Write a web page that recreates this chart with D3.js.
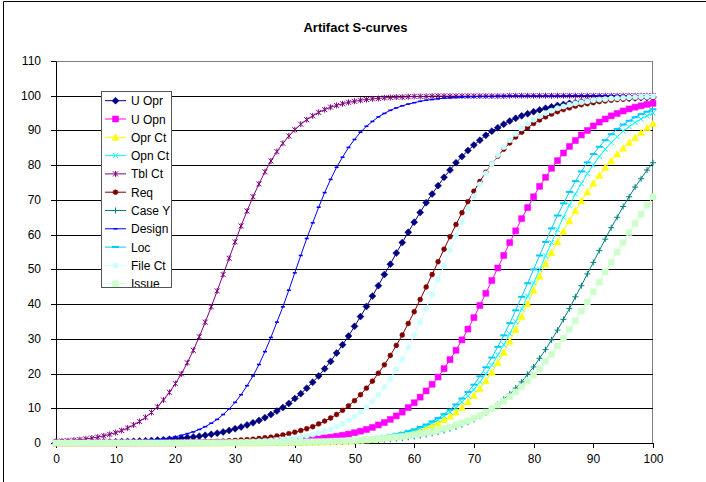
<!DOCTYPE html>
<html><head><meta charset="utf-8">
<script src="https://cdn.jsdelivr.net/npm/d3@7"></script>
<style>body{margin:0;background:#fff}svg{display:block}text{font-family:Arial,"Liberation Sans",sans-serif}</style>
</head><body><svg id="c" width="706" height="482"></svg>
<script>
const categories = [0,1,2,3,4,5,6,7,8,9,10,11,12,13,14,15,16,17,18,19,20,21,22,23,24,25,26,27,28,29,30,31,32,33,34,35,36,37,38,39,40,41,42,43,44,45,46,47,48,49,50,51,52,53,54,55,56,57,58,59,60,61,62,63,64,65,66,67,68,69,70,71,72,73,74,75,76,77,78,79,80,81,82,83,84,85,86,87,88,89,90,91,92,93,94,95,96,97,98,99,100];

const uOpr = [0.10,0.12,0.13,0.15,0.17,0.19,0.21,0.24,0.28,0.31,
 0.35,0.40,0.45,0.51,0.58,0.66,0.74,0.84,0.95,1.07,
 1.21,1.37,1.55,1.75,1.97,2.23,2.51,2.84,3.2,3.6,
 4.1,4.6,5.2,5.8,6.5,7.3,8.2,9.2,10.2,11.4,
 12.8,14.2,15.8,17.5,19.3,21.4,23.5,25.9,28.3,30.8,
 33.6,36.4,39.3,42.3,45.3,48.5,51.5,54.7,57.7,60.7,
 63.6,66.4,69.2,71.7,74.1,76.5,78.6,80.7,82.5,84.2,
 85.8,87.2,88.6,89.8,90.8,91.8,92.7,93.5,94.2,94.8,
 95.4,95.9,96.4,96.8,97.2,97.5,97.8,98.0,98.3,98.5,
 98.6,98.8,98.9,99.1,99.2,99.3,99.3,99.4,99.5,99.5,99.6];

const uOpn = [0,0,0,0,0,0,0,0,0,0,
 0.01,0.01,0.01,0.01,0.01,0.02,0.02,0.02,0.03,0.03,
 0.04,0.04,0.05,0.06,0.07,0.08,0.09,0.11,0.12,0.14,
 0.16,0.19,0.22,0.26,0.29,0.34,0.40,0.46,0.53,0.61,
 0.70,0.82,0.94,1.09,1.25,1.45,1.68,1.93,2.23,2.56,
 2.96,3.4,3.9,4.5,5.2,5.9,6.8,7.8,8.9,10.2,
 11.6,13.2,15.0,16.9,19.0,21.4,24.0,26.7,29.7,32.8,
 36.1,39.6,43.1,46.8,50.4,54.0,57.7,61.1,64.6,67.8,
 70.9,73.9,76.5,79.1,81.3,83.5,85.4,87.1,88.7,90.0,
 91.3,92.4,93.3,94.2,94.9,95.6,96.2,96.7,97.1,97.5,97.8];

const oprCt = [0,0,0,0,0,0,0,0,0,0,
 0,0,0,0,0,0,0,0,0,0,
 0.01,0.01,0.01,0.01,0.01,0.01,0.01,0.02,0.02,0.02,
 0.03,0.03,0.04,0.04,0.05,0.06,0.07,0.08,0.09,0.11,
 0.13,0.15,0.18,0.21,0.25,0.29,0.34,0.40,0.47,0.55,
 0.64,0.75,0.88,1.03,1.21,1.42,1.66,1.95,2.28,2.66,
 3.1,3.6,4.2,4.9,5.7,6.7,7.7,8.9,10.3,11.9,
 13.7,15.7,17.9,20.4,23.1,26.1,29.3,32.7,36.4,40.1,
 44.0,48.0,51.6,54.8,57.9,61.0,64.0,66.9,69.7,72.3,
 74.8,77.1,79.3,81.3,83.2,84.9,86.5,87.9,89.4,90.8,92.0];

const opnCt = [0,0,0,0,0,0,0,0,0,0,
 0,0,0,0,0,0,0,0,0,0,
 0.01,0.01,0.01,0.01,0.01,0.02,0.02,0.02,0.03,0.03,
 0.04,0.04,0.05,0.06,0.07,0.08,0.09,0.11,0.13,0.15,
 0.17,0.20,0.24,0.28,0.32,0.38,0.44,0.51,0.60,0.70,
 0.81,0.95,1.10,1.29,1.50,1.75,2.03,2.37,2.75,3.2,
 3.7,4.3,5.0,5.8,6.7,7.7,8.9,10.2,11.8,13.5,
 15.4,17.5,19.9,22.4,25.3,28.3,31.5,35.0,38.6,42.3,
 46.1,50.0,53.9,57.7,61.4,65.0,68.5,71.7,74.7,77.6,
 80.1,82.5,84.6,86.5,88.2,89.8,91.1,92.3,93.3,94.2,95.0];

const tblCt = [0.5,0.55,0.67,0.81,0.98,1.18,1.42,1.71,2.06,2.49,
 2.99,3.59,4.32,5.2,6.2,7.4,8.8,10.4,12.4,14.6,
 17.1,19.9,23.1,26.7,30.6,34.8,39.2,43.8,48.5,53.2,
 57.9,62.5,66.8,70.9,74.6,78.1,81.2,83.9,86.3,88.4,
 90.2,91.8,93.1,94.2,95.2,96.0,96.7,97.2,97.7,98.1,
 98.4,98.7,98.9,99.1,99.2,99.4,99.5,99.6,99.6,99.7,
 99.8,99.8,99.8,99.9,99.9,99.9,99.9,99.9,99.9,99.9,
 99.9,99.9,99.9,99.9,99.9,99.9,100,100,100,100,
 100,100,100,100,100,100,100,100,100,100,
 100,100,100,100,100,100,100,100,100,100,100];

const req = [0.01,0.01,0.01,0.01,0.02,0.02,0.02,0.03,0.03,0.04,
 0.04,0.05,0.05,0.06,0.07,0.08,0.09,0.11,0.13,0.15,
 0.17,0.20,0.23,0.26,0.30,0.35,0.41,0.47,0.55,0.64,
 0.73,0.85,0.97,1.1,1.3,1.5,1.7,2.0,2.3,2.7,
 3.1,3.6,4.1,4.7,5.5,6.3,7.2,8.2,9.4,10.7,
 12.2,13.9,15.8,17.8,20.1,22.5,25.2,28.1,31.1,34.4,
 37.8,41.3,44.9,48.5,52.2,55.8,59.4,62.9,66.3,69.5,
 72.5,75.3,78.0,80.4,82.6,84.6,86.4,88.1,89.5,90.8,
 92.0,93.0,93.9,94.7,95.4,96.0,96.5,97.0,97.4,97.7,
 98.0,98.3,98.5,98.7,98.9,99.0,99.2,99.3,99.4,99.5,99.5];

const caseY = [0,0,0,0,0,0,0,0,0,0,
 0,0,0,0,0,0,0,0,0,0,
 0.01,0.01,0.01,0.01,0.01,0.02,0.02,0.02,0.02,0.03,
 0.03,0.04,0.04,0.05,0.06,0.06,0.07,0.08,0.10,0.11,
 0.13,0.15,0.17,0.19,0.22,0.25,0.28,0.33,0.37,0.43,
 0.49,0.56,0.64,0.73,0.83,0.96,1.09,1.25,1.42,1.63,
 1.85,2.12,2.41,2.76,3.1,3.6,4.1,4.6,5.3,6.0,
 6.8,7.7,8.7,9.9,11.1,12.6,14.1,15.8,17.6,19.8,
 21.9,24.4,26.9,29.7,32.5,35.6,38.7,42.1,45.3,48.7,
 52.0,55.4,58.7,62.0,65.0,68.1,70.9,73.7,76.1,78.6,80.7];

const design = [0.03,0.04,0.05,0.06,0.08,0.09,0.12,0.14,0.17,0.21,
 0.25,0.31,0.38,0.46,0.55,0.68,0.82,1.0,1.2,1.5,
 1.8,2.2,2.7,3.2,3.9,4.7,5.7,6.8,8.2,9.8,
 11.7,13.9,16.5,19.3,22.6,26.3,30.4,34.8,39.2,44.0,
 49.0,54.0,58.9,63.4,67.9,72.1,75.9,79.4,82.3,85.1,
 87.4,89.5,91.2,92.6,93.9,94.9,95.8,96.5,97.1,97.6,
 98.0,98.4,98.7,98.9,99.1,99.3,99.4,99.5,99.6,99.7,
 99.7,99.8,99.8,99.8,99.9,99.9,99.9,99.9,99.9,99.9,
 99.9,99.9,99.9,99.9,99.9,99.9,100,100,100,100,
 100,100,100,100,100,100,100,100,100,100,100];

const loc = [0,0,0,0,0,0,0,0,0,0,
 0,0,0,0,0,0,0,0,0,0,
 0.01,0.01,0.01,0.01,0.01,0.02,0.02,0.02,0.02,0.03,
 0.03,0.04,0.05,0.05,0.06,0.07,0.09,0.10,0.12,0.14,
 0.17,0.19,0.23,0.27,0.31,0.37,0.43,0.51,0.59,0.70,
 0.82,0.96,1.12,1.31,1.54,1.80,2.10,2.46,2.88,3.4,
 3.9,4.6,5.3,6.2,7.2,8.3,9.6,11.1,12.8,14.7,
 16.8,19.2,21.8,24.6,27.7,31.0,34.5,38.2,42.1,46.0,
 50.0,54.0,57.9,61.8,65.5,69.0,72.3,75.4,78.2,80.8,
 83.2,85.3,87.2,88.9,90.4,91.7,92.8,93.8,94.7,95.4,96.1];

const fileCt = [0,0,0,0,0,0,0,0,0,0,
 0.01,0.01,0.01,0.02,0.02,0.02,0.03,0.03,0.04,0.04,
 0.05,0.06,0.07,0.08,0.10,0.12,0.14,0.16,0.20,0.23,
 0.27,0.32,0.38,0.45,0.54,0.64,0.75,0.89,1.06,1.25,
 1.48,1.75,2.06,2.44,2.88,3.4,4.0,4.7,5.5,6.5,
 7.6,8.9,10.3,12.0,13.9,16.1,18.5,21.2,24.2,27.5,
 31.0,34.8,38.7,42.8,47.0,51.2,55.5,59.6,63.6,67.5,
 71.1,74.5,77.6,80.4,82.9,85.2,87.2,89.0,90.6,91.9,
 93.1,94.1,95.0,95.7,96.4,96.9,97.4,97.8,98.1,98.4,
 98.7,98.9,99.0,99.2,99.3,99.4,99.5,99.6,99.7,99.7,99.8];

const issue = [0,0,0,0,0,0.01,0.01,0.01,0.01,0.01,
 0.01,0.01,0.01,0.01,0.01,0.01,0.02,0.02,0.02,0.02,
 0.02,0.03,0.03,0.03,0.04,0.04,0.05,0.05,0.06,0.07,
 0.08,0.09,0.10,0.11,0.12,0.14,0.15,0.17,0.19,0.22,
 0.24,0.27,0.31,0.34,0.39,0.43,0.49,0.54,0.61,0.68,
 0.77,0.86,0.97,1.08,1.21,1.35,1.52,1.70,1.91,2.13,
 2.39,2.66,2.98,3.3,3.7,4.2,4.6,5.2,5.8,6.4,
 7.2,7.9,8.9,9.8,10.9,12.0,13.4,14.7,16.2,17.8,
 19.6,21.4,23.5,25.5,27.9,30.2,32.7,35.2,38.0,40.6,
 43.5,46.3,49.3,52.0,55.0,57.7,60.6,63.2,65.9,68.4,70.9];

const seriesNames = ["U Opr","U Opn","Opr Ct","Opn Ct","Tbl Ct","Req","Case Y","Design","Loc","File Ct","Issue"];
const seriesValues = [uOpr,uOpn,oprCt,opnCt,tblCt,req,caseY,design,loc,fileCt,issue];
const yTicks = [0,10,20,30,40,50,60,70,80,90,100,110];
const xTicks = [0,10,20,30,40,50,60,70,80,90,100];
const titleText = "Artifact S-curves";

// styles
const seriesColors = ["#000080","#FF00FF","#FFFF00","#00FFFF","#800080","#800000","#008080","#0000FF","#00CCFF","#CCFFFF","#CCFFCC"];
const seriesMarkers = ["diamond","square","triangle","x","star","circle","plus","dashS","dashL","circleS","square"];

const markerDefs = {
  diamond:{d:"M0,-3.5L3.5,0L0,3.5L-3.5,0Z", fill:true},
  square:{d:"M-3,-3H3V3H-3Z", fill:true},
  triangle:{d:"M0,-3.5L3.5,3L-3.5,3Z", fill:true},
  x:{d:"M-2.5,-2.5L2.5,2.5M-2.5,2.5L2.5,-2.5", fill:false, w:1},
  star:{d:"M-2.5,-2.5L2.5,2.5M-2.5,2.5L2.5,-2.5M0,-3V3", fill:false, w:1},
  circle:{d:d3.symbol(d3.symbolCircle, 19)(), fill:true},
  circleS:{d:d3.symbol(d3.symbolCircle, 22)(), fill:true},
  plus:{d:"M-3,0H3M0,-3V3", fill:false, w:1},
  dashS:{d:"M-2,0H2", fill:false, w:1.6},
  dashL:{d:"M-3.5,0H3.5", fill:false, w:2}
};

const W = 706, H = 482;
const svg = d3.select("#c");
const x = d3.scaleLinear().domain([0,100]).range([56,653]);
const y = d3.scaleLinear().domain([0,110]).range([443,61]);
const xr = x.copy().interpolate(d3.interpolateRound);
const yr = y.copy().interpolate(d3.interpolateRound);

svg.append("rect").attr("width",W).attr("height",H).attr("fill","#fff");
svg.append("path").attr("d","M3.5,482V1.5H706").attr("fill","none").attr("stroke","#000");

svg.append("text").attr("x",355.5).attr("y",32).attr("text-anchor","middle")
  .attr("font-size",13).attr("font-weight","bold").attr("fill","#000").text(titleText);

// plot area border
svg.append("rect").attr("x",56.5).attr("y",61.5).attr("width",596).attr("height",382)
  .attr("fill","#fff").attr("stroke","#808080");

// gridlines
svg.append("g").selectAll("line").data(yTicks.filter(v=>v>0 && v<110)).join("line")
  .attr("x1",57).attr("x2",653).attr("y1",d=>yr(d)+0.5).attr("y2",d=>yr(d)+0.5)
  .attr("stroke","#000").attr("stroke-width",1);

// axes
const gy = svg.append("g").attr("transform","translate(56,0)")
  .call(d3.axisLeft(yr).tickValues(yTicks).tickSize(5).tickSizeOuter(0).tickPadding(10));
const gx = svg.append("g").attr("transform","translate(0,443)")
  .call(d3.axisBottom(xr).tickValues(xTicks).tickSize(5).tickSizeOuter(0).tickPadding(6));
[gy,gx].forEach(g=>{
  g.attr("font-family","Arial, 'Liberation Sans', sans-serif").attr("font-size",12);
  g.selectAll("text").attr("fill","#000");
  g.selectAll("line").attr("stroke","#000");
  g.select(".domain").attr("stroke","#000");
});

// series
const line = d3.line().x((d,i)=>x(categories[i])).y(d=>y(d));
seriesValues.forEach((vals,si)=>{
  const col = seriesColors[si];
  const mk = markerDefs[seriesMarkers[si]];
  const g = svg.append("g").attr("class","series");
  g.append("path").datum(vals).attr("d",line).attr("fill","none").attr("stroke",col).attr("stroke-width",1);
  g.selectAll("path.m").data(vals).join("path").attr("class","m")
    .attr("transform",(d,i)=>`translate(${x(categories[i])},${y(d)})`)
    .attr("d",mk.d)
    .attr("fill",mk.fill?col:"none")
    .attr("stroke",col).attr("stroke-width",mk.fill?0.5:mk.w);
});

// legend
const lx = 101.5, ly = 91.5, lw = 70, lh = 196;
const defs = svg.append("defs");
defs.append("clipPath").attr("id","lclip").append("rect").attr("x",lx).attr("y",ly).attr("width",lw).attr("height",lh);
const lg = svg.append("g");
lg.append("rect").attr("x",lx).attr("y",ly).attr("width",lw).attr("height",lh).attr("fill","#fff").attr("stroke","none");
const li = lg.append("g").attr("clip-path","url(#lclip)");
seriesNames.forEach((name,si)=>{
  const cy = 100.7 + si*18.3;
  const col = seriesColors[si];
  const mk = markerDefs[seriesMarkers[si]];
  li.append("line").attr("x1",105).attr("x2",126).attr("y1",cy).attr("y2",cy).attr("stroke",col).attr("stroke-width",1);
  li.append("path").attr("transform",`translate(115.5,${cy})`).attr("d",mk.d)
    .attr("fill",mk.fill?col:"none").attr("stroke",col).attr("stroke-width",mk.fill?0.5:mk.w);
  li.append("text").attr("x",131).attr("y",cy+4.5).attr("font-size",12).attr("fill","#000").text(name);
});
lg.append("rect").attr("x",lx).attr("y",ly).attr("width",lw).attr("height",lh).attr("fill","none").attr("stroke","#555");
</script></body></html>
